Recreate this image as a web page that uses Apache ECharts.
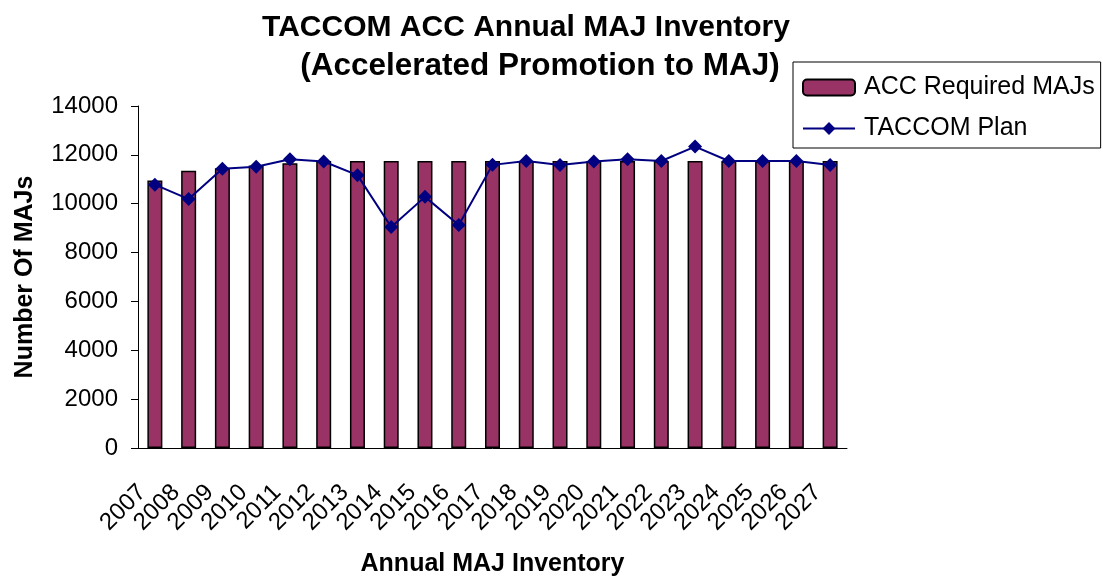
<!DOCTYPE html>
<html>
<head>
<meta charset="utf-8">
<script src="https://cdn.jsdelivr.net/npm/echarts@6/dist/echarts.min.js"></script>
<style>
  html, body { margin: 0; padding: 0; background: #fff; }
  #chart { width: 1103px; height: 577px; }
</style>
</head>
<body>
<div id="chart"></div>
<script>
// data
const years = ['2007','2008','2009','2010','2011','2012','2013','2014','2015','2016','2017',
               '2018','2019','2020','2021','2022','2023','2024','2025','2026','2027']
const accRequired = [10950, 11350, 11450, 11560, 11660, 11750, 11750, 11750, 11750, 11750, 11750,
                     11750, 11750, 11750, 11750, 11750, 11750, 11750, 11750, 11750, 11750]
const taccomPlan = [10780, 10190, 11430, 11510, 11820, 11730, 11170, 9050, 10280, 9130, 11590,
                    11750, 11580, 11730, 11820, 11750, 12340, 11750, 11750, 11750, 11580]
const yTicks = { min: 0, max: 14000, interval: 2000 }

const font = 'Liberation Sans, Arial, sans-serif'
const chart = echarts.init(document.getElementById('chart'))

const option = {
    backgroundColor: '#fff',
    animation: false,
    title: {
        text: '{a|TACCOM ACC Annual MAJ Inventory}\n{b|(Accelerated Promotion to MAJ)}',
        left: 528,
        top: 4,
        textAlign: 'center',
        textStyle: {
            fontFamily: font,
            fontWeight: 'bold',
            color: '#000',
            rich: {
                a: { fontFamily: font, fontWeight: 'bold', fontSize: 30, lineHeight: 38, color: '#000', padding: [0, 14, 0, 0] },
                b: { fontFamily: font, fontWeight: 'bold', fontSize: 31.5, lineHeight: 38, color: '#000', padding: [0, 0, 0, 14] }
            }
        }
    },
    legend: {
        orient: 'vertical',
        left: 793,
        top: 62,
        padding: [13, 6, 7, 9],
        borderColor: '#000',
        borderWidth: 1,
        itemWidth: 52,
        itemHeight: 16,
        itemGap: 16,
        textStyle: { fontFamily: font, fontSize: 25, color: '#000', padding: [0, 0, 0, 4] },
        data: ['ACC Required MAJs', 'TACCOM Plan']
    },
    grid: { left: 138, right: 256, top: 106, bottom: 129, outerBoundsMode: 'none', containLabel: false },
    xAxis: {
        type: 'category',
        data: years,
        name: 'Annual MAJ Inventory',
        nameLocation: 'middle',
        nameGap: 104,
        nameTextStyle: { fontFamily: font, fontWeight: 'bold', fontSize: 25, color: '#000' },
        axisLine: { lineStyle: { color: '#000', width: 1 } },
        axisTick: { length: 8, lineStyle: { color: '#000' } },
        axisLabel: {
            rotate: 45,
            interval: 0,
            margin: 28,
            padding: [0, 18, 0, 0],
            fontFamily: font,
            fontSize: 24,
            color: '#000'
        }
    },
    yAxis: {
        type: 'value',
        min: yTicks.min,
        max: yTicks.max,
        interval: yTicks.interval,
        name: 'Number Of MAJs',
        nameLocation: 'middle',
        nameGap: 100,
        nameTextStyle: { fontFamily: font, fontWeight: 'bold', fontSize: 25, color: '#000' },
        axisLine: { show: true, lineStyle: { color: '#000', width: 1 } },
        axisTick: { show: true, length: 7, lineStyle: { color: '#000' } },
        splitLine: { show: false },
        axisLabel: {
            margin: 20,
            fontFamily: font,
            fontSize: 24,
            color: '#000',
            formatter: v => String(v)
        }
    },
    series: [
        {
            name: 'ACC Required MAJs',
            type: 'bar',
            data: accRequired,
            barWidth: 15,
            itemStyle: { color: '#993366', borderColor: '#000', borderWidth: 1.5 }
        },
        {
            name: 'TACCOM Plan',
            type: 'line',
            data: taccomPlan,
            symbol: 'diamond',
            symbolSize: 14,
            lineStyle: { color: '#000080', width: 2 },
            itemStyle: { color: '#000080' }
        }
    ]
}

chart.setOption(option)
</script>
</body>
</html>
